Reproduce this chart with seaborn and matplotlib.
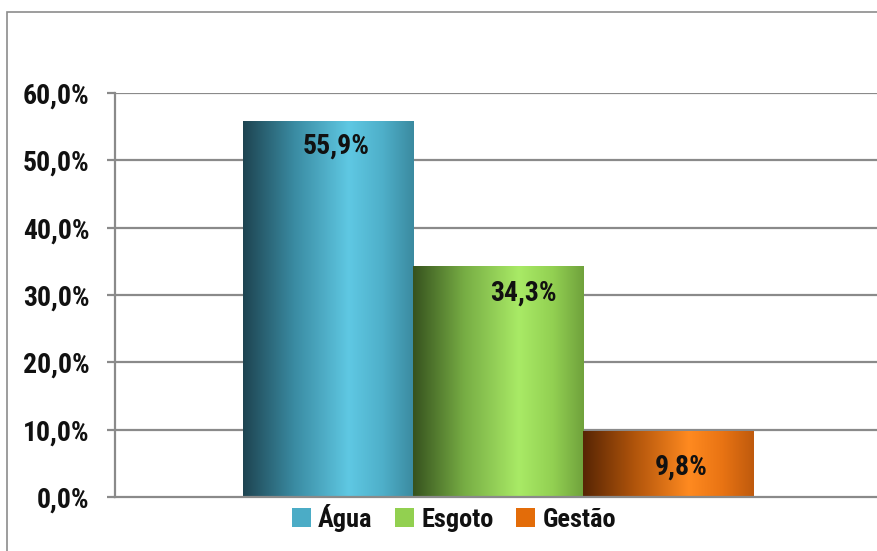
import numpy as np
import pandas as pd
import matplotlib
matplotlib.use("Agg")
import matplotlib.pyplot as plt
import seaborn as sns
from matplotlib.colors import LinearSegmentedColormap
from matplotlib.patches import Rectangle, Patch
from matplotlib.ticker import FuncFormatter

# ---- data ----
series = ["Água", "Esgoto", "Gestão"]
values = [55.9, 34.3, 9.8]
group = ["Total", "Total", "Total"]
yticks = [0, 10, 20, 30, 40, 50, 60]

legend_colors = ["#4bacc6", "#92d050", "#e36c09"]
gradients = [
    ["#1e4451", "#3a8ba2", "#5fc8e3", "#4eafc9", "#3b8aa0"],
    ["#36521e", "#77ad44", "#a9ea66", "#92d052", "#70a23c"],
    ["#572504", "#b0540b", "#ff8a20", "#e87313", "#bf5a0d"],
]
label_dx = [8, 25, 13]      # px offsets of labels (style)
label_dy = [26, 27, 36]

sns.set_theme(style="white")
plt.rcParams["font.family"] = ["Roboto Condensed", "DejaVu Sans"]
plt.rcParams["font.weight"] = "bold"

W, H = 878, 551
fig = plt.figure(figsize=(W / 100, H / 100), dpi=100)
ax = fig.add_axes([115 / W, 54 / H, 766 / W, 404 / H])

df = pd.DataFrame({"grupo": group, "serie": series, "valor": values})
sns.barplot(data=df, x="grupo", y="valor", hue="serie", palette=legend_colors,
            width=0.666, ax=ax, legend=False, saturation=1)
ax.set_xlim(-0.5, 0.5)
ax.set_ylim(0, 60)
ax.set_yticks(yticks)
ax.yaxis.set_major_formatter(FuncFormatter(lambda v, p: f"{v:.1f}%".replace(".", ",")))
ax.set_xticks([])
ax.set_xlabel("")
ax.set_ylabel("")

grid_c = "#8a8a8a"
for t in yticks[1:]:
    ax.axhline(t, color=grid_c, lw=1.6, zorder=0.5)
for s in ["top", "right"]:
    ax.spines[s].set_visible(False)
for s in ["left", "bottom"]:
    ax.spines[s].set_color(grid_c)
    ax.spines[s].set_linewidth(1.6)
ax.tick_params(axis="y", which="major", left=True, length=5.8, width=1.6,
               color=grid_c, labelsize=20, pad=12.5)
for lab in ax.get_yticklabels():
    lab.set_fontweight("bold")
    lab.set_color("#111111")

# gradient fill for bars
patches = sorted(ax.patches, key=lambda p: p.get_x())
grad = np.linspace(0, 1, 256).reshape(1, -1)
for i, p in enumerate(patches):
    x0, y0, w, h = p.get_x(), p.get_y(), p.get_width(), p.get_height()
    stops = gradients[i]
    cmap = LinearSegmentedColormap.from_list(
        f"g{i}", list(zip([0, 0.3, 0.62, 0.82, 1.0], stops)))
    im = ax.imshow(grad, extent=[x0, x0 + w, y0, y0 + h], aspect="auto",
                   cmap=cmap, zorder=2, interpolation="bicubic")
    im.set_clip_path(p)
    p.set_edgecolor("none")
    ax.annotate(f"{values[i]:.1f}%".replace(".", ","),
                xy=(x0 + w / 2, y0 + h), xytext=(label_dx[i] * 0.72, -label_dy[i] * 0.72),
                textcoords="offset points", ha="center", va="center",
                fontsize=20, fontweight="bold", color="#111111", zorder=5)
ax.set_aspect("auto")
ax.set_xlim(-0.5, 0.5)
ax.set_ylim(0, 60)

handles = [Patch(facecolor=c, edgecolor="none") for c in legend_colors]
leg = fig.legend(handles, series, loc="center", bbox_to_anchor=(454 / W, 1 - 518 / H),
                 ncol=3, frameon=False, handlelength=0.72, handleheight=0.72,
                 handletextpad=0.28, columnspacing=0.85,
                 prop={"weight": "bold", "size": 19})
for t in leg.get_texts():
    t.set_color("#111111")

frame = Rectangle((7 / W, -0.1), 1.2, 1 - 12 / H + 0.1, transform=fig.transFigure,
                  fill=False, edgecolor="#8c8c8c", lw=1.2)
fig.patches.append(frame)

fig.savefig("out.png", dpi=100)
